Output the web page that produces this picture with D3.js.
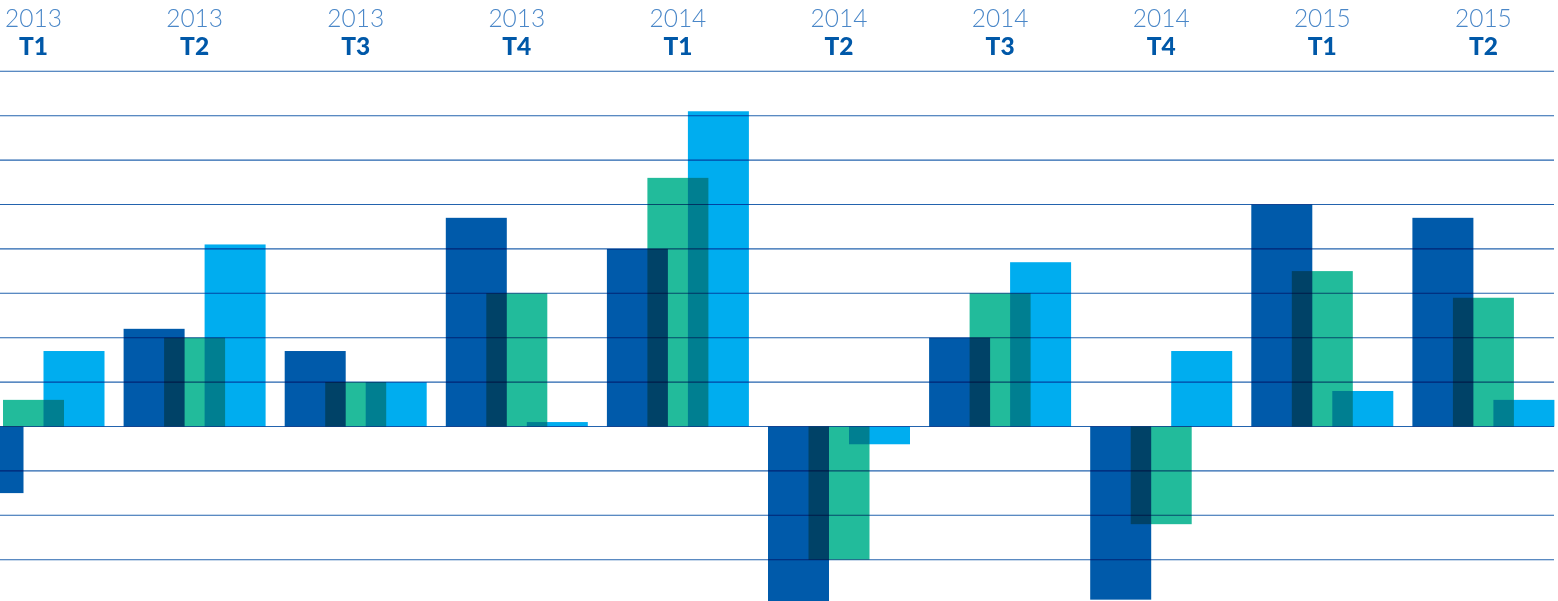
<!DOCTYPE html>
<html>
<head>
<meta charset="utf-8">
<script src="https://cdn.jsdelivr.net/npm/d3@7"></script>
<style>
  html, body { margin: 0; padding: 0; background: #fff; }
  svg { display: block; isolation: isolate; }
  .bar { mix-blend-mode: multiply; }
  .grid line { mix-blend-mode: multiply; }
</style>
</head>
<body>
<svg id="chart" width="1558" height="601"></svg>
<script>
// quarters shown along the top
var years = ["2013", "2013", "2013", "2013", "2014", "2014", "2014", "2014", "2015", "2015"];
var quarters = ["T1", "T2", "T3", "T4", "T1", "T2", "T3", "T4", "T1", "T2"];

// three series, one value per quarter (in gridline units)
var seriesA = [-1.5, 2.2, 1.7, 4.7, 4.0, -4.0, 2.0, -3.9, 5.0, 4.7];
var seriesB = [0.6, 2.0, 1.0, 3.0, 5.6, -3.0, 3.0, -2.2, 3.5, 2.9];
var seriesC = [1.7, 4.1, 1.0, 0.1, 7.1, -0.4, 3.7, 1.7, 0.8, 0.6];

var seriesNames = ["a", "b", "c"];
var colors = ["#005aaa", "#22bb9b", "#00adef"];
var gridTicks = [-3, -2, -1, 0, 1, 2, 3, 4, 5, 6, 7, 8];

var svg = d3.select("#chart"),
    width = +svg.attr("width"),
    height = +svg.attr("height");

var keys = quarters.map(function(q, i) { return i; });
var step = 161.1;

var x = d3.scaleBand()
    .domain(keys)
    .range([33.5 - step / 2, 33.5 - step / 2 + step * keys.length])
    .padding(0);

// the three bars overlap: offset of each bar centre from the group centre
var off = d3.scalePoint().domain(seriesNames).range([-40.5, 40.5]);
var barW = 61;

var y = d3.scaleLinear().domain([-4, 8]).range([426.5 + 4 * 44.4, 426.5 - 8 * 44.4]);

var data = [];
keys.forEach(function(k) {
  [seriesA, seriesB, seriesC].forEach(function(s, j) {
    data.push({ key: k, series: seriesNames[j], value: s[k], color: colors[j] });
  });
});

function cx(k) { return x(k) + x.bandwidth() / 2; }

// bars
svg.append("g")
  .selectAll("rect")
  .data(data)
  .enter().append("rect")
    .attr("class", "bar")
    .attr("x", function(d) { return cx(d.key) + off(d.series) - barW / 2; })
    .attr("width", barW)
    .attr("y", function(d) { return y(Math.max(0, d.value)); })
    .attr("height", function(d) { return Math.abs(y(d.value) - y(0)); })
    .attr("fill", function(d) { return d.color; });

// gridlines over the bars
svg.append("g")
  .attr("class", "grid")
  .selectAll("line")
  .data(gridTicks)
  .enter().append("line")
    .attr("x1", 0)
    .attr("x2", 1554)
    .attr("y1", function(d) { return y(d); })
    .attr("y2", function(d) { return y(d); })
    .attr("stroke", "#2363ae")
    .attr("stroke-width", 1.1);

// labels
var lab = svg.append("g")
  .selectAll("g")
  .data(keys)
  .enter().append("g")
    .attr("transform", function(k) { return "translate(" + cx(k) + ",0)"; });

lab.append("text")
  .attr("y", 27)
  .attr("text-anchor", "middle")
  .style("font-family", "Lato, sans-serif")
  .style("font-weight", 300)
  .style("font-size", "24.5px")
  .attr("fill", "#4a87c8")
  .text(function(k) { return years[k]; });

lab.append("text")
  .attr("y", 55)
  .attr("text-anchor", "middle")
  .style("font-family", "Lato, sans-serif")
  .style("font-weight", 900)
  .style("font-size", "24.5px")
  .attr("fill", "#0058a8")
  .text(function(k) { return quarters[k]; });
</script>
</body>
</html>
